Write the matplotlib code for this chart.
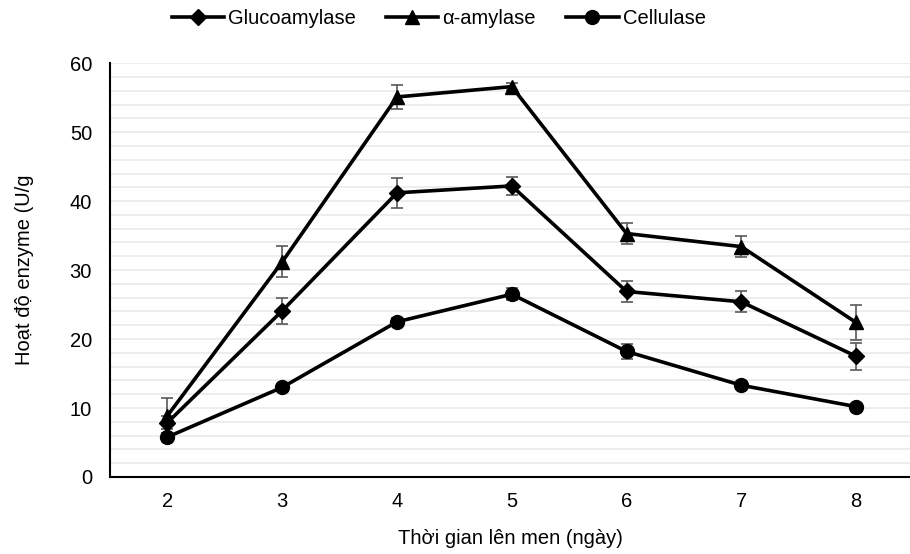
import matplotlib.pyplot as plt

plt.rcParams['font.family'] = ['Liberation Sans', 'DejaVu Sans']

# Days of fermentation
days = [2, 3, 4, 5, 6, 7, 8]

# Enzyme activity (U/g) and error bars
gluco = [7.9, 24.1, 41.2, 42.2, 26.9, 25.4, 17.5]
gluco_err = [1.0, 1.9, 2.2, 1.25, 1.5, 1.5, 1.95]

amylase = [8.9, 31.2, 55.1, 56.6, 35.3, 33.4, 22.4]
amylase_err = [2.5, 2.25, 1.75, 0.5, 1.55, 1.5, 2.55]

cellulase = [5.8, 13.0, 22.5, 26.5, 18.2, 13.3, 10.2]
cellulase_err = [0.5, 0.4, 0.5, 0.9, 1.1, 0.5, 0.4]

series = [
    ("Glucoamylase", gluco, gluco_err, "D", 8.5),
    ("α-amylase", amylase, amylase_err, "^", 10.5),
    ("Cellulase", cellulase, cellulase_err, "o", 10),
]

fs = 14.5

fig = plt.figure(figsize=(9.1, 5.54), dpi=100)
ax = fig.add_axes([0.121, 0.139, 0.879, 0.747])

for name, vals, err, mk, ms in series:
    ax.errorbar(days, vals, yerr=err, fmt='none', ecolor='#595959',
                elinewidth=1.2, capsize=4, capthick=1.2, zorder=2)
    ax.plot(days, vals, color='black', lw=2.6, marker=mk, markersize=ms,
            label=name, zorder=3)

ax.set_xlim(1.5, 8.47)
ax.set_ylim(0, 60)
ax.set_yticks(range(0, 61, 10))
ax.set_yticks(range(0, 61, 2), minor=True)
ax.set_xticks(days)
ax.grid(axis='y', which='both', color='#ececec', lw=1.3)
ax.set_axisbelow(True)
ax.tick_params(axis='both', which='both', length=0, labelsize=fs)
ax.tick_params(axis='x', pad=11)
ax.tick_params(axis='y', pad=13)

for s in ['top', 'right']:
    ax.spines[s].set_visible(False)
for s in ['left', 'bottom']:
    ax.spines[s].set_color('black')
    ax.spines[s].set_linewidth(1.5)

ax.set_xlabel("Thời gian lên men (ngày)", fontsize=fs, labelpad=13)
ax.set_ylabel("Hoạt độ enzyme (U/g", fontsize=fs, labelpad=26)

fig.legend(loc='center', bbox_to_anchor=(0.482, 0.967), ncol=3,
           frameon=False, fontsize=fs, handlelength=2.6, columnspacing=1.5,
           handletextpad=0.2)

fig.savefig("out.png", dpi=100)
